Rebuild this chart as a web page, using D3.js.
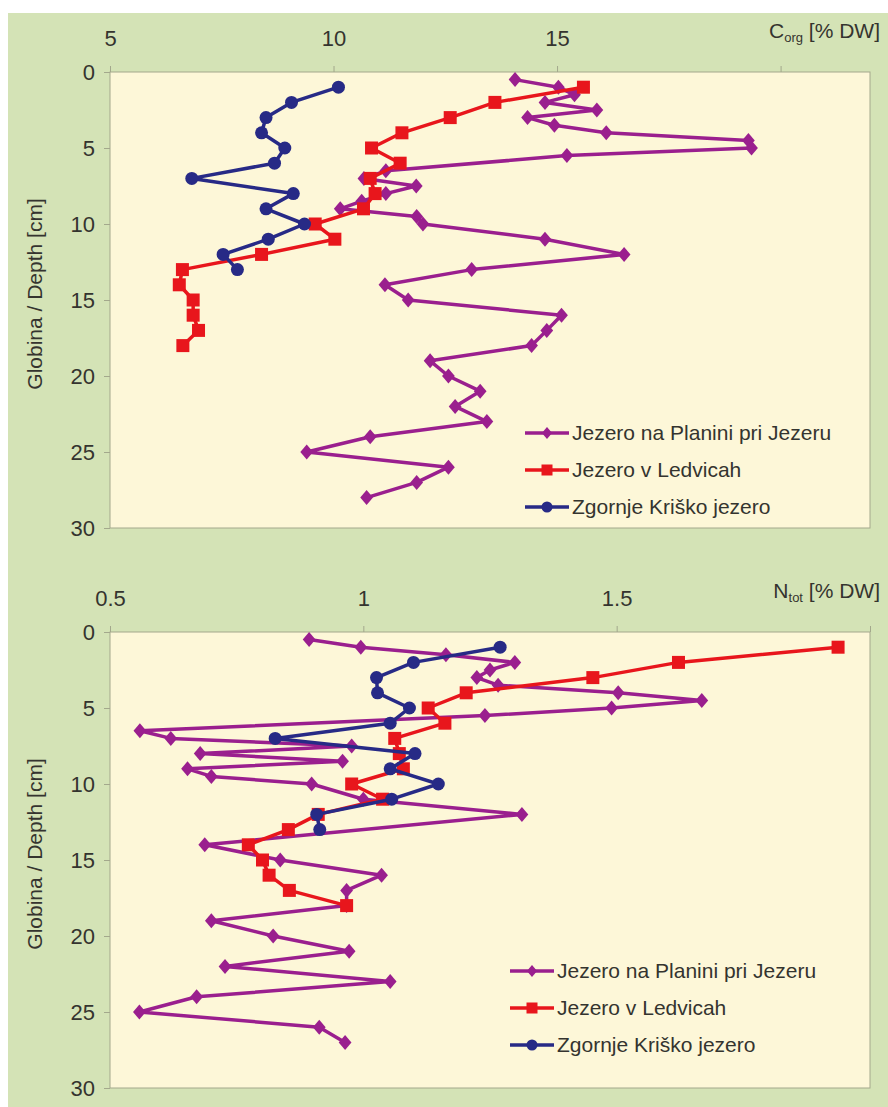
<!DOCTYPE html>
<head>
    <meta charset="utf-8">
    <script src='https://d3js.org/d3.v7.min.js'></script>
    <title>Corg / Ntot depth profiles</title>
    <style>
        body { margin: 0; background: #ffffff; }
        text { font-family: "Liberation Sans", Arial, Helvetica, sans-serif; fill: #34342f; }
    </style>
</head>
<body>
<script>

// legend names
var lakes = ["Jezero na Planini pri Jezeru", "Jezero v Ledvicah", "Zgornje Kriško jezero"];

// depth ticks (shared)
var depthTicks = [0, 5, 10, 15, 20, 25, 30];

// --- C org panel ---
var corgTicks = [5, 10, 15, 20];
var corgTickLabels = ["5", "10", "15", ""];

var depthPlaninaC = [0.5, 1, 1.5, 2, 2.5, 3, 3.5, 4, 4.5, 5, 5.5, 6.5, 7, 7.5, 8, 8.5, 9, 9.5,
                     10, 11, 12, 13, 14, 15, 16, 17, 18, 19, 20, 21, 22, 23, 24, 25, 26, 27, 28];
var corgPlanina = [14.06, 15.03, 15.39, 14.73, 15.89, 14.34, 14.94, 16.10, 19.28, 19.35, 15.22,
                   11.17, 10.68, 11.85, 11.17, 10.63, 10.15, 11.86,
                   12.0, 14.73, 16.50, 13.09, 11.15, 11.67, 15.10, 14.77, 14.43, 12.16, 12.57,
                   13.28, 12.72, 13.43, 10.82, 9.40, 12.57, 11.86, 10.74];

var depthLedvicahC = [1, 2, 3, 4, 5, 6, 7, 8, 9, 10, 11, 12, 13, 14, 15, 16, 17, 18];
var corgLedvicah = [15.59, 13.61, 12.61, 11.53, 10.85, 11.49, 10.82, 10.93, 10.67, 9.59,
                    10.03, 8.39, 6.62, 6.55, 6.86, 6.86, 6.98, 6.63];

var depthKriskoC = [1, 2, 3, 4, 5, 6, 7, 8, 9, 10, 11, 12, 13];
var corgKrisko = [10.11, 9.06, 8.49, 8.39, 8.91, 8.68, 6.83, 9.10, 8.49, 9.35, 8.54, 7.53, 7.85];

// --- N tot panel ---
var ntotTicks = [0.5, 1, 1.5, 2];
var ntotTickLabels = ["0.5", "1", "1.5", ""];

var depthPlaninaN = [0.5, 1, 1.5, 2, 2.5, 3, 3.5, 4, 4.5, 5, 5.5, 6.5, 7, 7.5, 8, 8.5, 9, 9.5,
                     10, 11, 12, 14, 15, 16, 17, 18, 19, 20, 21, 22, 23, 24, 25, 26, 27];
var ntotPlanina = [0.893, 0.995, 1.163, 1.299, 1.25, 1.224, 1.266, 1.503, 1.668, 1.49, 1.24,
                   0.559, 0.62, 0.977, 0.678, 0.959, 0.653, 0.70,
                   0.898, 1.0, 1.313, 0.687, 0.836, 1.036, 0.967, 0.967, 0.70, 0.822, 0.972,
                   0.727, 1.053, 0.671, 0.558, 0.913, 0.964];

var depthLedvicahN = [1, 2, 3, 4, 5, 6, 7, 8, 9, 10, 11, 12, 13, 14, 15, 16, 17, 18];
var ntotLedvicah = [1.937, 1.622, 1.453, 1.203, 1.128, 1.161, 1.062, 1.071, 1.079, 0.977,
                    1.038, 0.911, 0.852, 0.773, 0.801, 0.814, 0.854, 0.967];

var depthKriskoN = [1, 2, 3, 4, 5, 6, 7, 8, 9, 10, 11, 12, 13];
var ntotKrisko = [1.27, 1.099, 1.026, 1.028, 1.091, 1.053, 0.826, 1.102, 1.053, 1.148, 1.056, 0.908, 0.914];

var colors = ["#9a1f8e", "#e8161c", "#272a86"];
var shapes = ["diamond", "square", "circle"];

var svg = d3.select("body").append("svg")
    .attr("width", 888)
    .attr("height", 1107);

// green background
svg.append("rect")
    .attr("x", 8).attr("y", 13)
    .attr("width", 880).attr("height", 1094)
    .style("fill", "#d4e3b6");

function marker(g, shape, x, y, s, color) {
    if (shape == "diamond")
        g.append("path").attr("d", "M" + x + "," + (y - s) + "L" + (x + s * 0.85) + "," + y + "L" + x + "," + (y + s) + "L" + (x - s * 0.85) + "," + y + "Z")
            .style("fill", color);
    else if (shape == "square")
        g.append("rect").attr("x", x - s).attr("y", y - s).attr("width", 2 * s).attr("height", 2 * s)
            .style("fill", color);
    else
        g.append("circle").attr("cx", x).attr("cy", y).attr("r", s).style("fill", color);
}

function panel(top, xDomain, ticks, tickLabels, axisMain, axisSub, series, legendX, legendY) {
    var left = 110, right = 870, bottom = top + 456;
    var x = d3.scaleLinear().domain(xDomain).range([left, right]);
    var y = d3.scaleLinear().domain([0, 30]).range([top, bottom]);

    svg.append("rect")
        .attr("x", left).attr("y", top)
        .attr("width", right - left).attr("height", bottom - top)
        .style("fill", "#fdf7d8")
        .style("stroke", "#a3a88c")
        .style("stroke-width", 1);

    // top axis
    var xa = svg.append("g")
        .attr("transform", "translate(0," + top + ")")
        .call(d3.axisTop(x).tickValues(ticks).tickSize(6).tickFormat(function(d, i) { return tickLabels[i]; }));
    xa.select(".domain").remove();
    xa.selectAll("line").style("stroke", "#a3a88c");
    xa.selectAll("text").style("font-size", "22px").attr("y", -26).style("fill", "#34342f");

    // left axis
    var ya = svg.append("g")
        .attr("transform", "translate(" + left + ",0)")
        .call(d3.axisLeft(y).tickValues(depthTicks).tickSize(6));
    ya.select(".domain").remove();
    ya.selectAll("line").style("stroke", "#a3a88c");
    ya.selectAll("text").style("font-size", "22px").attr("x", -15).style("fill", "#34342f");

    // axis title
    var t = svg.append("text")
        .attr("x", 880).attr("y", top - 34)
        .attr("text-anchor", "end")
        .style("font-size", "21px");
    t.append("tspan").text(axisMain);
    t.append("tspan").text(axisSub).style("font-size", "13px").attr("dy", 4);
    t.append("tspan").text(" [% DW]").attr("dy", -4);

    svg.append("text")
        .attr("transform", "translate(42," + (top + 222) + ") rotate(-90)")
        .attr("text-anchor", "middle")
        .style("font-size", "21px")
        .text("Globina / Depth [cm]");

    var line = d3.line().x(function(d) { return x(d[0]); }).y(function(d) { return y(d[1]); });

    series.forEach(function(s, k) {
        var pts = s.values.map(function(v, i) { return [v, s.depths[i]]; });
        var g = svg.append("g");
        g.append("path")
            .datum(pts)
            .attr("d", line)
            .style("fill", "none")
            .style("stroke", colors[k])
            .style("stroke-width", 3.5)
            .style("stroke-linejoin", "round");
        var size = shapes[k] == "diamond" ? 7.5 : (shapes[k] == "square" ? 6.5 : 6.5);
        pts.forEach(function(p) { marker(g, shapes[k], x(p[0]), y(p[1]), size, colors[k]); });
    });

    // legend
    for (var i = 0; i < lakes.length; i++) {
        var ly = legendY + i * 37;
        svg.append("line")
            .attr("x1", legendX).attr("x2", legendX + 44)
            .attr("y1", ly).attr("y2", ly)
            .style("stroke", colors[i]).style("stroke-width", 3.5);
        marker(svg, shapes[i], legendX + 22, ly, shapes[i] == "diamond" ? 6 : 5.5, colors[i]);
        svg.append("text")
            .attr("x", legendX + 47).attr("y", ly + 7)
            .style("font-size", "21px")
            .text(lakes[i]);
    }
}

panel(72, [5, 22], corgTicks, corgTickLabels, "C", "org",
    [{depths: depthPlaninaC, values: corgPlanina},
     {depths: depthLedvicahC, values: corgLedvicah},
     {depths: depthKriskoC, values: corgKrisko}], 525, 433);

panel(632, [0.5, 2.0], ntotTicks, ntotTickLabels, "N", "tot",
    [{depths: depthPlaninaN, values: ntotPlanina},
     {depths: depthLedvicahN, values: ntotLedvicah},
     {depths: depthKriskoN, values: ntotKrisko}], 510, 971);

</script>
</body>
</html>
